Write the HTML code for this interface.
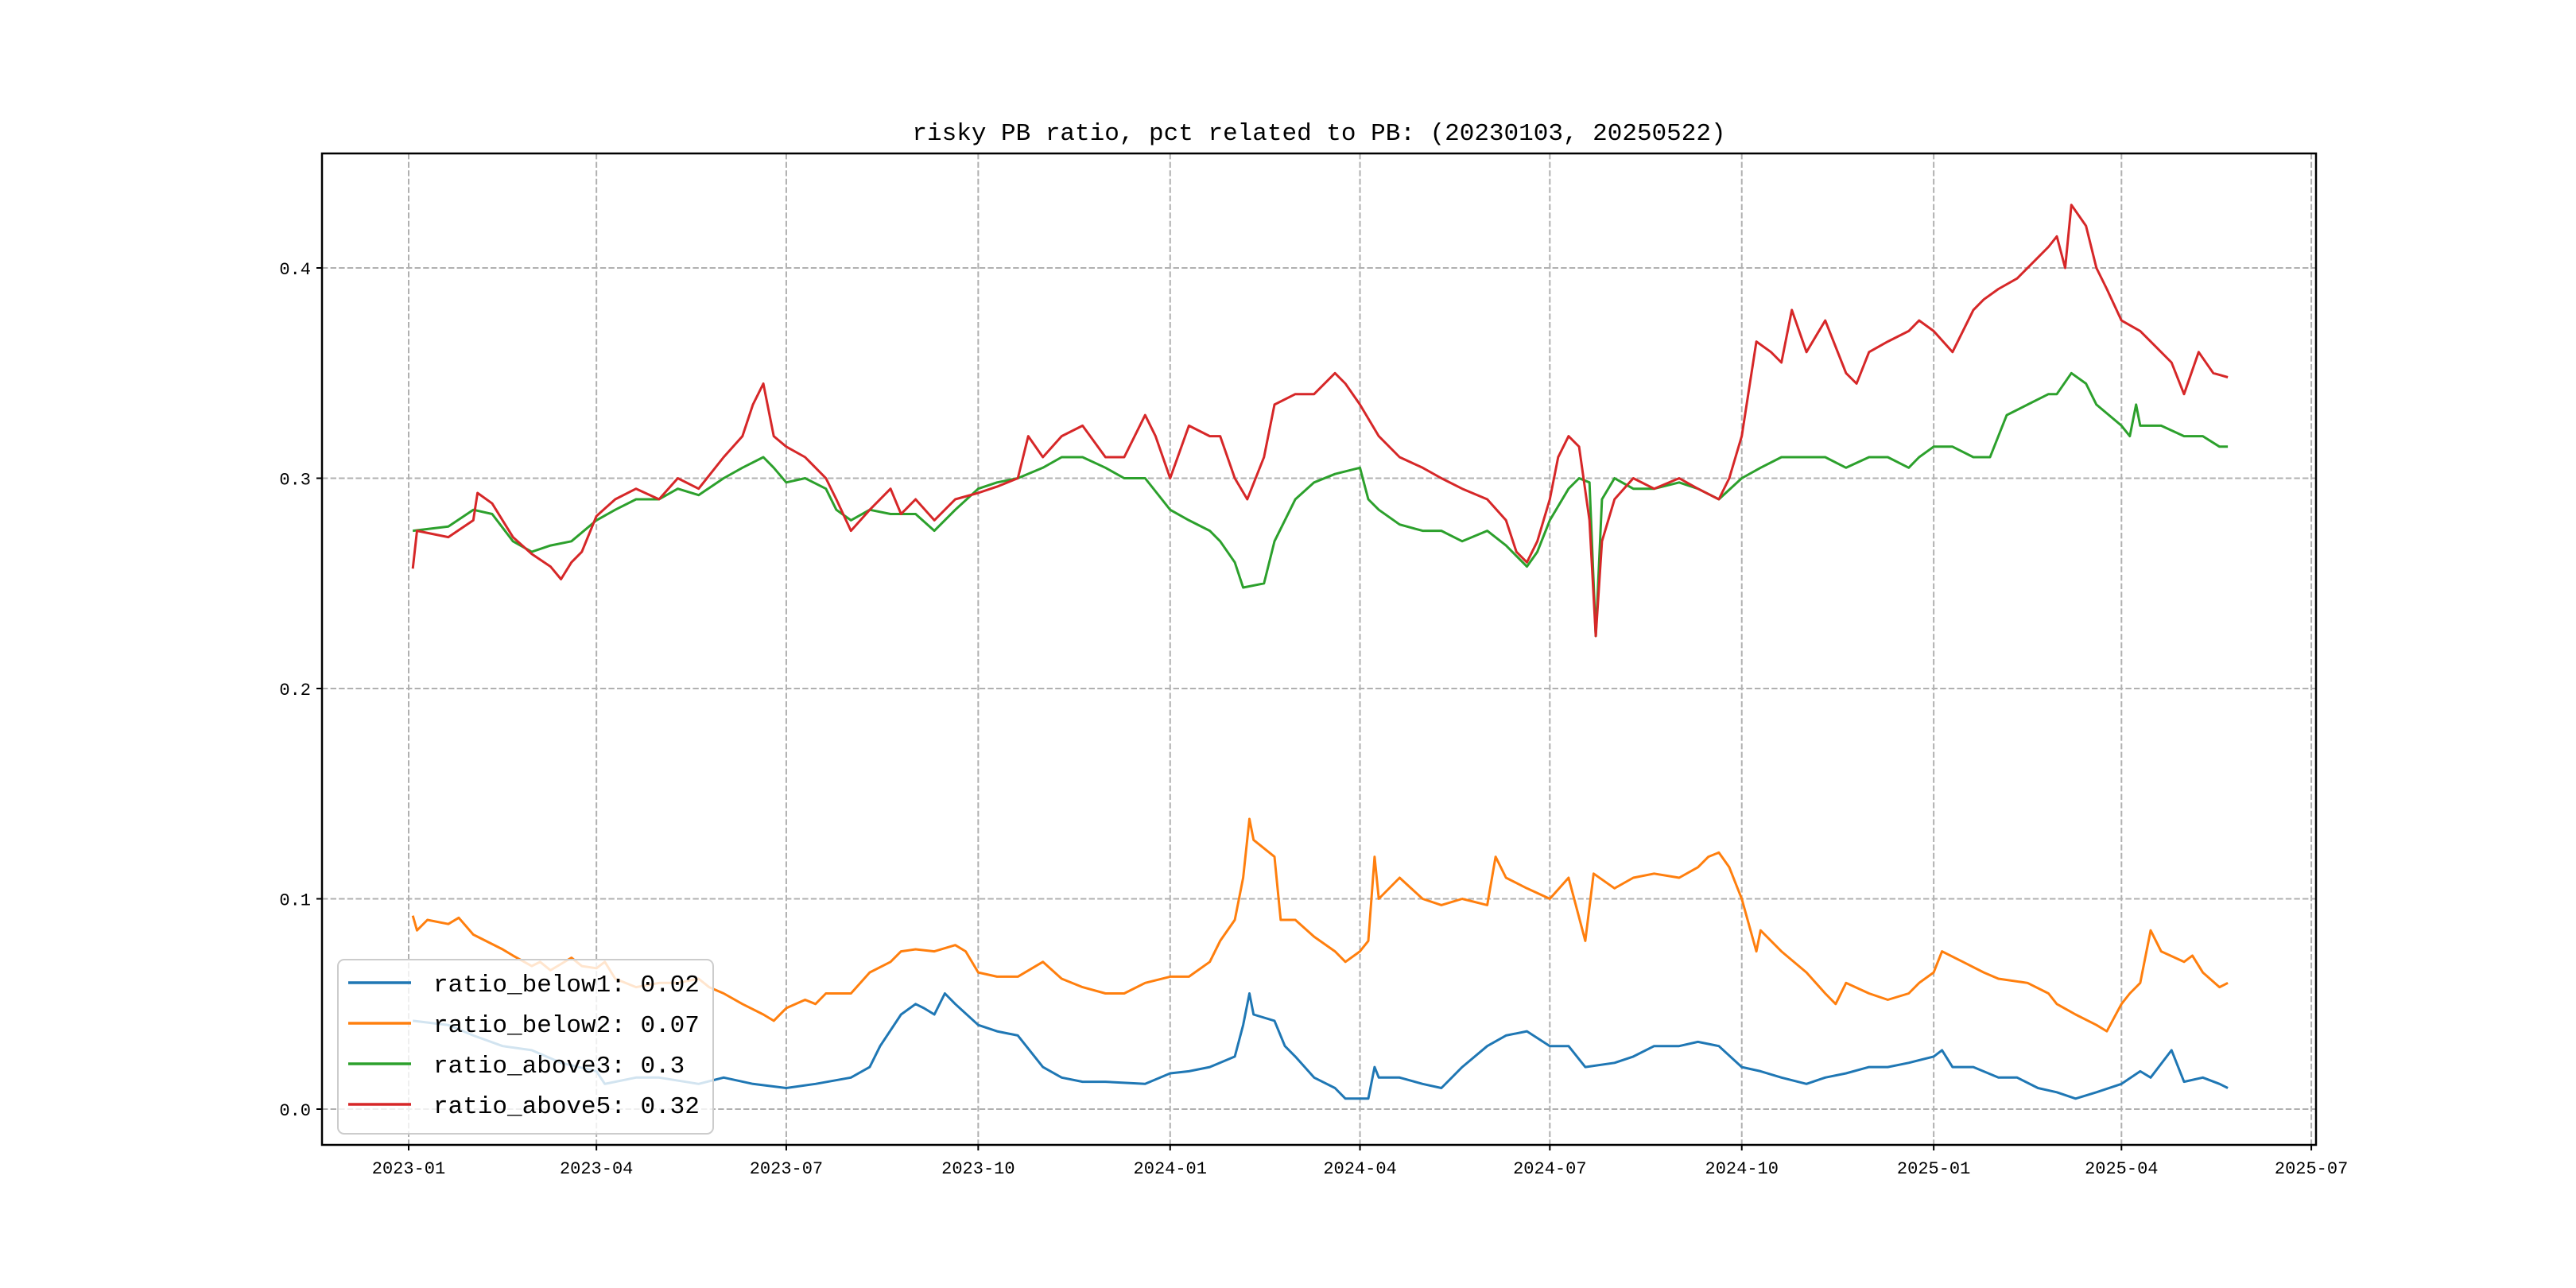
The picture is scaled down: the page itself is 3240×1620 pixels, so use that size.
<!DOCTYPE html>
<html><head><meta charset="utf-8"><style>
html,body{margin:0;padding:0;background:#fff;}
svg{display:block;}
text{font-family:"Liberation Mono","WenQuanYi Zen Hei",monospace;}
</style></head><body>
<svg id="chart" width="3240" height="1620" viewBox="0 0 3240 1620">
<rect width="3240" height="1620" fill="#fff"/>
<text x="1659" y="176" text-anchor="middle" font-size="31">risky PB ratio, pct related to PB: (20230103, 20250522)</text>
<g id="grid"></g><g id="series"></g><g id="axes"></g><g id="legend"></g>
</svg>
<script>
const yTickValues = [0.0, 0.1, 0.2, 0.3, 0.4];
const yTickLabels = ["0.0", "0.1", "0.2", "0.3", "0.4"];
const xTickDates = ["2023-01-01","2023-04-01","2023-07-01","2023-10-01","2024-01-01","2024-04-01","2024-07-01","2024-10-01","2025-01-01","2025-04-01","2025-07-01"];
const xTickLabels = ["2023-01","2023-04","2023-07","2023-10","2024-01","2024-04","2024-07","2024-10","2025-01","2025-04","2025-07"];
const seriesNames = ["ratio_below1: 0.02","ratio_below2: 0.07","ratio_above3: 0.3","ratio_above5: 0.32"];

const below1Dates = ["2023-01-03","2023-01-20","2023-02-01","2023-02-15","2023-03-01","2023-03-15","2023-04-01","2023-04-05","2023-04-20","2023-05-01","2023-05-20","2023-06-01","2023-06-15","2023-07-01","2023-07-15","2023-08-01","2023-08-10","2023-08-15","2023-08-25","2023-09-01","2023-09-05","2023-09-10","2023-09-15","2023-09-20","2023-10-01","2023-10-10","2023-10-20","2023-11-01","2023-11-10","2023-11-20","2023-12-01","2023-12-20","2024-01-01","2024-01-10","2024-01-20","2024-02-01","2024-02-05","2024-02-08","2024-02-10","2024-02-20","2024-02-25","2024-03-01","2024-03-10","2024-03-20","2024-03-25","2024-04-01","2024-04-05","2024-04-08","2024-04-10","2024-04-20","2024-05-01","2024-05-10","2024-05-15","2024-05-20","2024-06-01","2024-06-10","2024-06-20","2024-07-01","2024-07-10","2024-07-18","2024-08-01","2024-08-10","2024-08-20","2024-09-01","2024-09-10","2024-09-20","2024-10-01","2024-10-10","2024-10-20","2024-11-01","2024-11-10","2024-11-20","2024-12-01","2024-12-10","2024-12-20","2025-01-01","2025-01-05","2025-01-10","2025-01-20","2025-02-01","2025-02-10","2025-02-20","2025-03-01","2025-03-10","2025-03-20","2025-04-01","2025-04-10","2025-04-15","2025-04-25","2025-05-01","2025-05-10","2025-05-18","2025-05-22"];
const below1Values = [0.042,0.04,0.035,0.03,0.028,0.022,0.018,0.012,0.015,0.015,0.012,0.015,0.012,0.01,0.012,0.015,0.02,0.03,0.045,0.05,0.048,0.045,0.055,0.05,0.04,0.037,0.035,0.02,0.015,0.013,0.013,0.012,0.017,0.018,0.02,0.025,0.04,0.055,0.045,0.042,0.03,0.025,0.015,0.01,0.005,0.005,0.005,0.02,0.015,0.015,0.012,0.01,0.015,0.02,0.03,0.035,0.037,0.03,0.03,0.02,0.022,0.025,0.03,0.03,0.032,0.03,0.02,0.018,0.015,0.012,0.015,0.017,0.02,0.02,0.022,0.025,0.028,0.02,0.02,0.015,0.015,0.01,0.008,0.005,0.008,0.012,0.018,0.015,0.028,0.013,0.015,0.012,0.01];

const below2Dates = ["2023-01-03","2023-01-05","2023-01-10","2023-01-20","2023-01-25","2023-02-01","2023-02-15","2023-02-20","2023-03-01","2023-03-05","2023-03-10","2023-03-20","2023-03-25","2023-04-01","2023-04-05","2023-04-10","2023-04-20","2023-05-01","2023-05-10","2023-05-20","2023-05-25","2023-06-01","2023-06-10","2023-06-20","2023-06-25","2023-07-01","2023-07-10","2023-07-15","2023-07-20","2023-08-01","2023-08-10","2023-08-20","2023-08-25","2023-09-01","2023-09-10","2023-09-20","2023-09-25","2023-10-01","2023-10-10","2023-10-20","2023-11-01","2023-11-10","2023-11-20","2023-12-01","2023-12-10","2023-12-20","2024-01-01","2024-01-10","2024-01-20","2024-01-25","2024-02-01","2024-02-05","2024-02-08","2024-02-10","2024-02-20","2024-02-23","2024-03-01","2024-03-10","2024-03-20","2024-03-25","2024-04-01","2024-04-05","2024-04-08","2024-04-10","2024-04-20","2024-05-01","2024-05-10","2024-05-20","2024-06-01","2024-06-05","2024-06-10","2024-06-20","2024-07-01","2024-07-10","2024-07-18","2024-07-22","2024-08-01","2024-08-10","2024-08-20","2024-09-01","2024-09-10","2024-09-15","2024-09-20","2024-09-25","2024-10-01","2024-10-08","2024-10-10","2024-10-20","2024-11-01","2024-11-10","2024-11-15","2024-11-20","2024-12-01","2024-12-10","2024-12-20","2024-12-25","2025-01-01","2025-01-05","2025-01-15","2025-01-25","2025-02-01","2025-02-15","2025-02-25","2025-03-01","2025-03-10","2025-03-20","2025-03-25","2025-04-01","2025-04-05","2025-04-10","2025-04-15","2025-04-20","2025-05-01","2025-05-05","2025-05-10","2025-05-18","2025-05-22"];
const below2Values = [0.092,0.085,0.09,0.088,0.091,0.083,0.076,0.073,0.068,0.07,0.066,0.072,0.068,0.067,0.07,0.062,0.058,0.06,0.06,0.062,0.058,0.055,0.05,0.045,0.042,0.048,0.052,0.05,0.055,0.055,0.065,0.07,0.075,0.076,0.075,0.078,0.075,0.065,0.063,0.063,0.07,0.062,0.058,0.055,0.055,0.06,0.063,0.063,0.07,0.08,0.09,0.11,0.138,0.128,0.12,0.09,0.09,0.082,0.075,0.07,0.075,0.08,0.12,0.1,0.11,0.1,0.097,0.1,0.097,0.12,0.11,0.105,0.1,0.11,0.08,0.112,0.105,0.11,0.112,0.11,0.115,0.12,0.122,0.115,0.1,0.075,0.085,0.075,0.065,0.055,0.05,0.06,0.055,0.052,0.055,0.06,0.065,0.075,0.07,0.065,0.062,0.06,0.055,0.05,0.045,0.04,0.037,0.05,0.055,0.06,0.085,0.075,0.07,0.073,0.065,0.058,0.06];

const above3Dates = ["2023-01-03","2023-01-20","2023-02-01","2023-02-10","2023-02-20","2023-03-01","2023-03-10","2023-03-20","2023-04-01","2023-04-10","2023-04-20","2023-05-01","2023-05-10","2023-05-20","2023-06-01","2023-06-10","2023-06-20","2023-06-25","2023-07-01","2023-07-10","2023-07-20","2023-07-25","2023-08-01","2023-08-10","2023-08-20","2023-09-01","2023-09-10","2023-09-20","2023-10-01","2023-10-10","2023-10-20","2023-11-01","2023-11-10","2023-11-20","2023-12-01","2023-12-10","2023-12-20","2024-01-01","2024-01-10","2024-01-20","2024-01-25","2024-02-01","2024-02-05","2024-02-15","2024-02-20","2024-03-01","2024-03-10","2024-03-20","2024-04-01","2024-04-05","2024-04-10","2024-04-20","2024-05-01","2024-05-10","2024-05-20","2024-06-01","2024-06-10","2024-06-20","2024-06-25","2024-07-01","2024-07-10","2024-07-15","2024-07-20","2024-07-23","2024-07-26","2024-08-01","2024-08-10","2024-08-20","2024-09-01","2024-09-10","2024-09-20","2024-10-01","2024-10-10","2024-10-20","2024-11-01","2024-11-10","2024-11-20","2024-12-01","2024-12-10","2024-12-20","2024-12-25","2025-01-01","2025-01-10","2025-01-20","2025-01-28","2025-02-05","2025-02-15","2025-02-25","2025-03-01","2025-03-08","2025-03-15","2025-03-20","2025-04-01","2025-04-05","2025-04-08","2025-04-10","2025-04-20","2025-05-01","2025-05-10","2025-05-18","2025-05-22"];
const above3Values = [0.275,0.277,0.285,0.283,0.27,0.265,0.268,0.27,0.28,0.285,0.29,0.29,0.295,0.292,0.3,0.305,0.31,0.305,0.298,0.3,0.295,0.285,0.28,0.285,0.283,0.283,0.275,0.285,0.295,0.298,0.3,0.305,0.31,0.31,0.305,0.3,0.3,0.285,0.28,0.275,0.27,0.26,0.248,0.25,0.27,0.29,0.298,0.302,0.305,0.29,0.285,0.278,0.275,0.275,0.27,0.275,0.268,0.258,0.265,0.28,0.295,0.3,0.298,0.225,0.29,0.3,0.295,0.295,0.298,0.295,0.29,0.3,0.305,0.31,0.31,0.31,0.305,0.31,0.31,0.305,0.31,0.315,0.315,0.31,0.31,0.33,0.335,0.34,0.34,0.35,0.345,0.335,0.325,0.32,0.335,0.325,0.325,0.32,0.32,0.315,0.315];

const above5Dates = ["2023-01-03","2023-01-05","2023-01-20","2023-02-01","2023-02-03","2023-02-10","2023-02-20","2023-03-01","2023-03-10","2023-03-15","2023-03-20","2023-03-25","2023-04-01","2023-04-10","2023-04-20","2023-05-01","2023-05-10","2023-05-20","2023-06-01","2023-06-10","2023-06-15","2023-06-20","2023-06-25","2023-07-01","2023-07-10","2023-07-20","2023-07-25","2023-08-01","2023-08-10","2023-08-20","2023-08-25","2023-09-01","2023-09-10","2023-09-20","2023-10-01","2023-10-10","2023-10-20","2023-10-25","2023-11-01","2023-11-10","2023-11-20","2023-12-01","2023-12-10","2023-12-20","2023-12-25","2024-01-01","2024-01-10","2024-01-20","2024-01-25","2024-02-01","2024-02-07","2024-02-15","2024-02-20","2024-03-01","2024-03-10","2024-03-20","2024-03-25","2024-04-01","2024-04-10","2024-04-20","2024-05-01","2024-05-10","2024-05-20","2024-06-01","2024-06-10","2024-06-15","2024-06-20","2024-06-25","2024-07-01","2024-07-05","2024-07-10","2024-07-15","2024-07-20","2024-07-23","2024-07-26","2024-08-01","2024-08-10","2024-08-20","2024-09-01","2024-09-10","2024-09-20","2024-09-25","2024-10-01","2024-10-08","2024-10-15","2024-10-20","2024-10-25","2024-11-01","2024-11-10","2024-11-20","2024-11-25","2024-12-01","2024-12-10","2024-12-20","2024-12-25","2025-01-01","2025-01-10","2025-01-20","2025-01-25","2025-02-01","2025-02-10","2025-02-20","2025-02-25","2025-03-01","2025-03-05","2025-03-08","2025-03-15","2025-03-20","2025-03-25","2025-04-01","2025-04-10","2025-04-15","2025-04-20","2025-04-25","2025-05-01","2025-05-08","2025-05-15","2025-05-22"];
const above5Values = [0.257,0.275,0.272,0.28,0.293,0.288,0.272,0.264,0.258,0.252,0.26,0.265,0.282,0.29,0.295,0.29,0.3,0.295,0.31,0.32,0.335,0.345,0.32,0.315,0.31,0.3,0.29,0.275,0.285,0.295,0.283,0.29,0.28,0.29,0.293,0.296,0.3,0.32,0.31,0.32,0.325,0.31,0.31,0.33,0.32,0.3,0.325,0.32,0.32,0.3,0.29,0.31,0.335,0.34,0.34,0.35,0.345,0.335,0.32,0.31,0.305,0.3,0.295,0.29,0.28,0.265,0.26,0.27,0.29,0.31,0.32,0.315,0.28,0.225,0.27,0.29,0.3,0.295,0.3,0.295,0.29,0.3,0.32,0.365,0.36,0.355,0.38,0.36,0.375,0.35,0.345,0.36,0.365,0.37,0.375,0.37,0.36,0.38,0.385,0.39,0.395,0.405,0.41,0.415,0.4,0.43,0.42,0.4,0.39,0.375,0.37,0.365,0.36,0.355,0.34,0.36,0.35,0.348];

const NS = "http://www.w3.org/2000/svg";
const L = 405, R = 2913, T = 193, B = 1440;
const Y0 = 1395, YS = 2645;
const X0 = 514, XS = 2.624, D0 = Date.UTC(2023,0,1);
function xScale(d){ const p=d.split("-").map(Number); return X0 + (Date.UTC(p[0],p[1]-1,p[2]) - D0)/86400000*XS; }
function yScale(v){ return Y0 - v*YS; }
function mk(tag, attrs, parent){ const e=document.createElementNS(NS,tag); for(const k in attrs) e.setAttribute(k, attrs[k]); parent.appendChild(e); return e; }

const grid = document.getElementById("grid"), axes = document.getElementById("axes"), ser = document.getElementById("series"), leg = document.getElementById("legend");
yTickValues.forEach((v,i)=>{
  const y = yScale(v);
  const g = mk("line",{x1:L,x2:R,y1:y,y2:y,stroke:"#b0b0b0","stroke-width":2,"stroke-dasharray":"7.4,3.2"},grid);
  
  
  const t = mk("line",{x1:L-7,x2:L,y1:y,y2:y,stroke:"#000","stroke-width":2},axes);
  
  
  const tx = mk("text",{x:L-14,y:y+8,"text-anchor":"end","font-size":22},axes);
  tx.textContent = yTickLabels[i];
  
  
});
xTickDates.forEach((d,i)=>{
  const x = xScale(d);
  const g = mk("line",{x1:x,x2:x,y1:T,y2:B,stroke:"#b0b0b0","stroke-width":2,"stroke-dasharray":"7.4,3.2"},grid);
  
  
  const t = mk("line",{x1:x,x2:x,y1:B,y2:B+7,stroke:"#000","stroke-width":2},axes);
  
  
  const tx = mk("text",{x:x,y:B+36,"text-anchor":"middle","font-size":22},axes);
  tx.textContent = xTickLabels[i];
  
  
});
const frame = mk("rect",{x:L,y:T,width:R-L,height:B-T,fill:"none",stroke:"#000","stroke-width":2.5},axes);



const colors = ["#1f77b4","#ff7f0e","#2ca02c","#d62728"];
const allDates = [below1Dates, below2Dates, above3Dates, above5Dates];
const allValues = [below1Values, below2Values, above3Values, above5Values];
const lineNames = ["line-ratio-below1","line-ratio-below2","line-ratio-above3","line-ratio-above5"];
allDates.forEach((ds,si)=>{
  const pts = ds.map((d,i)=>xScale(d).toFixed(1)+","+yScale(allValues[si][i]).toFixed(1)).join(" ");
  const pl = mk("polyline",{points:pts,fill:"none",stroke:colors[si],"stroke-width":3,"stroke-linejoin":"round"},ser);
  
  
});

const box = mk("rect",{x:425,y:1207,width:472,height:219,rx:8,fill:"#fff","fill-opacity":0.8,stroke:"#cccccc","stroke-width":2},leg);


const legY = [1236, 1287, 1338, 1389];
seriesNames.forEach((n,i)=>{
  const ln = mk("line",{x1:438,x2:517,y1:legY[i],y2:legY[i],stroke:colors[i],"stroke-width":3.5},leg);
  
  
  const tx = mk("text",{x:545,y:legY[i]+11,"font-size":31},leg);
  tx.textContent = n;
  
  
});
</script>
</body></html>
